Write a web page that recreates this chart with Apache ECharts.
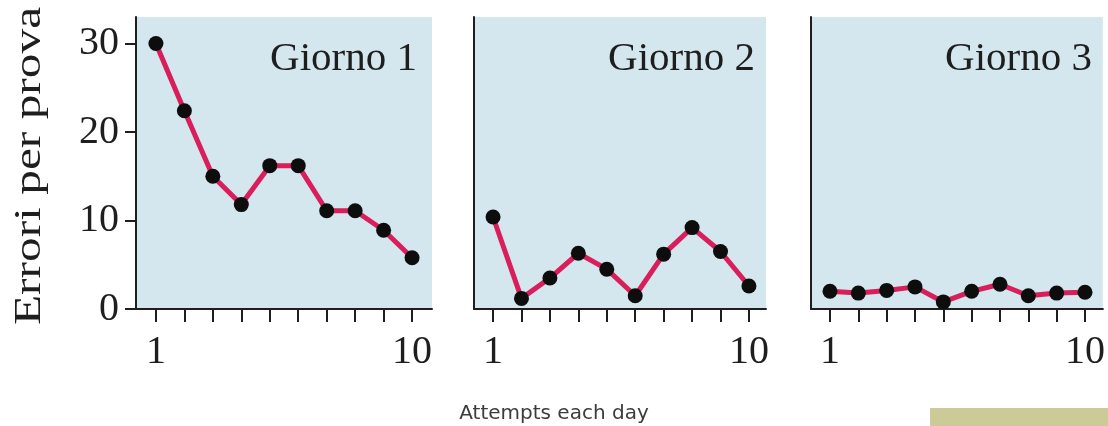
<!DOCTYPE html>
<html>
<head>
<meta charset="utf-8">
<script src="https://cdn.jsdelivr.net/npm/echarts@6/dist/echarts.min.js"></script>
<style>
  html, body { margin: 0; padding: 0; background: #ffffff; }
  #chart { width: 1108px; height: 426px; }
</style>
</head>
<body>
<div id="chart"></div>
<script>
// Attempts per day (x) and errors per attempt (y) for three consecutive days
const attempts = [1, 2, 3, 4, 5, 6, 7, 8, 9, 10];
const dayLabels = ['Giorno 1', 'Giorno 2', 'Giorno 3'];
const day1Errors = [30, 22.4, 15.0, 11.8, 16.2, 16.2, 11.1, 11.1, 8.9, 5.8];
const day2Errors = [10.4, 1.2, 3.5, 6.3, 4.5, 1.5, 6.2, 9.2, 6.5, 2.6];
const day3Errors = [2.0, 1.8, 2.1, 2.5, 0.8, 2.0, 2.8, 1.5, 1.8, 1.9];
const yTickValues = [0, 10, 20, 30];
const xLabelValues = [1, 10];
const yTitle = 'Errori per prova';
const xTitle = 'Attempts each day';

const allDays = [day1Errors, day2Errors, day3Errors];

// panel placement (pixels) and x extents around the 1..10 ticks
const panels = [
  { left: 136, width: 296, min: 0.30, max: 10.70 },
  { left: 474, width: 292, min: 0.33, max: 10.60 },
  { left: 811, width: 292, min: 0.33, max: 10.63 }
];
const gridTop = 17;
const gridHeight = 292;

const serif = '"Liberation Serif", "Times New Roman", serif';
const ink = '#1e1e1e';
const lineColor = '#d81e5b';

const chart = echarts.init(document.getElementById('chart'), null, { renderer: 'canvas' });

const grids = panels.map(p => ({
  left: p.left, top: gridTop, width: p.width, height: gridHeight,
  show: true, backgroundColor: '#d4e6ee', borderWidth: 0
}));

const xAxes = panels.map((p, i) => ({
  type: 'value', gridIndex: i, min: p.min, max: p.max,
  splitLine: { show: false },
  axisLine: { show: true, onZero: false, lineStyle: { color: ink, width: 2 } },
  axisTick: { show: true, customValues: attempts, length: 13, lineStyle: { color: ink, width: 2 } },
  axisLabel: {
    show: true, customValues: xLabelValues, margin: 23,
    fontSize: 40, fontFamily: serif, color: ink
  }
}));

const yAxes = panels.map((p, i) => ({
  type: 'value', gridIndex: i, min: 0, max: 33,
  splitLine: { show: false },
  axisLine: { show: true, onZero: false, lineStyle: { color: ink, width: 2 } },
  axisTick: { show: i === 0, customValues: yTickValues, length: 11, lineStyle: { color: ink, width: 2 } },
  axisLabel: {
    show: i === 0, customValues: yTickValues, margin: 17,
    fontSize: 40, fontFamily: serif, color: ink
  }
}));

const series = allDays.map((vals, i) => ({
  type: 'line', xAxisIndex: i, yAxisIndex: i,
  data: attempts.map((a, k) => [a, vals[k]]),
  clip: false,
  symbol: 'circle', symbolSize: 15,
  lineStyle: { color: lineColor, width: 5 },
  itemStyle: { color: '#0d0d0d', borderWidth: 0 },
  emphasis: { disabled: true }
}));

const dayTextRight = [417, 755, 1092];
const graphic = dayLabels.map((t, i) => ({
  type: 'text', x: dayTextRight[i], y: 59, z: 10,
  style: {
    text: t, font: '41px ' + serif, fill: ink,
    align: 'right', verticalAlign: 'middle',
    textAlign: 'right', textVerticalAlign: 'middle'
  }
}));

graphic.push({
  type: 'text', x: 30, y: 166, rotation: Math.PI / 2, scaleX: 1.3, z: 10,
  style: {
    text: yTitle, font: '38px ' + serif, fill: ink,
    align: 'center', verticalAlign: 'middle',
    textAlign: 'center', textVerticalAlign: 'middle'
  }
});

graphic.push({
  type: 'text', x: 554, y: 414, z: 10,
  style: {
    text: xTitle, font: '20px "DejaVu Sans", sans-serif', fill: '#3c3c3c',
    align: 'center', verticalAlign: 'middle',
    textAlign: 'center', textVerticalAlign: 'middle',
    shadowColor: 'rgba(50,50,50,0.7)', shadowBlur: 3
  }
});

graphic.push({
  type: 'rect', z: 5,
  shape: { x: 930, y: 408, width: 178, height: 18 },
  style: { fill: '#cccb98' }
});

chart.setOption({
  animation: false,
  backgroundColor: '#ffffff',
  grid: grids,
  xAxis: xAxes,
  yAxis: yAxes,
  series: series,
  graphic: graphic
});
</script>
</body>
</html>
